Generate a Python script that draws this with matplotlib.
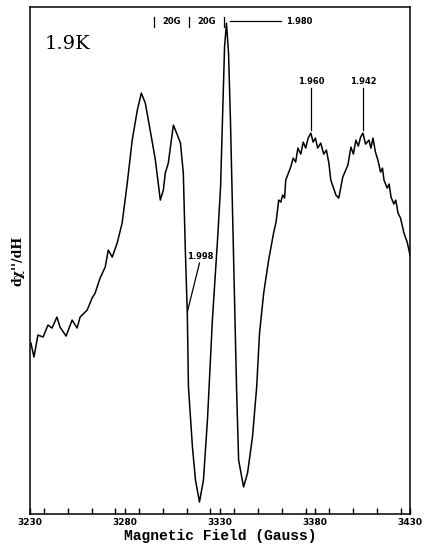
import matplotlib
matplotlib.use("Agg")
import matplotlib.pyplot as plt
from matplotlib.ticker import MultipleLocator

# EPR derivative spectrum at 1.9 K (field in Gauss, signal in arbitrary units)
field = [3230.5, 3232.1, 3234.2, 3236.9, 3239.5, 3241.6, 3244.2, 3245.8, 3249.0, 3252.2,
         3254.8, 3256.4, 3260.1, 3262.7, 3264.3, 3266.9, 3269.6, 3271.2, 3273.3, 3275.9,
         3278.5, 3281.2, 3283.8, 3286.5, 3288.6, 3290.7, 3293.9, 3296.0, 3298.6, 3300.2,
         3301.2, 3302.8, 3304.9, 3305.5, 3307.6, 3309.2, 3310.7, 3311.8, 3312.8, 3313.4,
         3315.5, 3317.1, 3319.2, 3321.3, 3323.4, 3326.0, 3328.7, 3330.3, 3331.3, 3332.4,
         3333.4, 3334.5, 3335.5, 3337.1, 3338.7, 3339.8, 3342.4, 3344.5, 3347.1, 3349.3,
         3350.8, 3353.0, 3355.6, 3358.2, 3359.5, 3360.9, 3362.0, 3363.0, 3364.0, 3364.6,
         3367.2, 3368.5, 3369.8, 3371.0, 3372.5, 3373.8, 3375.1, 3376.4, 3377.8, 3379.0,
         3380.2, 3381.4, 3383.0, 3384.6, 3386.0, 3387.3, 3388.3, 3391.0, 3392.5, 3394.6,
         3397.3, 3398.9, 3400.2, 3401.5, 3402.8, 3404.0, 3405.2, 3406.6, 3408.4, 3409.4,
         3410.5, 3411.8, 3413.1, 3414.5, 3415.5, 3416.3, 3418.0, 3419.0, 3420.0, 3421.5,
         3422.5, 3423.7, 3425.0, 3426.8, 3428.5, 3430.0]
signal = [171, 157, 179, 177, 189, 186, 197, 187, 178, 194,
          186, 197, 204, 216, 221, 236, 247, 264, 257, 271,
          291, 331, 374, 404, 421, 411, 377, 354, 314, 324,
          341, 351, 381, 389, 379, 371, 341, 261, 201, 127,
          67, 34, 12, 34, 94, 194, 274, 327, 394, 467,
          491, 461, 394, 261, 127, 54, 27, 41, 77, 127,
          181, 221, 254, 281, 292, 314, 312, 319, 316, 334,
          347, 356, 352, 366, 360, 372, 366, 376, 381, 372,
          376, 366, 371, 360, 364, 351, 334, 319, 316, 337,
          349, 367, 360, 374, 368, 377, 381, 370, 374, 366,
          376, 362, 354, 342, 346, 334, 326, 330, 317, 310,
          314, 301, 296, 281, 272, 259]

xticks = [3230, 3280, 3330, 3380, 3430]
g_labels = ["1.980", "1.960", "1.942", "1.998"]

fig = plt.figure(figsize=(4.28, 5.5), dpi=100)
ax = fig.add_axes([0.070, 0.0655, 0.888, 0.9215])
ax.plot(field, signal, color="black", linewidth=1.1)
ax.set_xlim(3230, 3430)
ax.set_ylim(0, 507)

ax.set_xticks(xticks)
ax.xaxis.set_minor_locator(MultipleLocator(12.5))
ax.tick_params(axis="x", which="both", direction="in", length=4, width=1, pad=3)
ax.tick_params(axis="x", labelsize=6.5)
for lab in ax.get_xticklabels():
    lab.set_fontweight("bold")
ax.set_yticks([])
for sp in ax.spines.values():
    sp.set_linewidth(1.1)

ax.set_xlabel("Magnetic Field (Gauss)", family="Liberation Mono", fontweight="bold",
              fontsize=10.5, labelpad=1)
ax.set_ylabel("d\u03c7''/dH", family="DejaVu Serif", fontweight="bold", fontsize=9, labelpad=4)

ax.text(3237.5, 470, "1.9K", family="DejaVu Serif", fontsize=14, va="center", ha="left")

lw = 0.9
fs = 6
# 20G scale bars
for b in [3295.2, 3313.8, 3332.2]:
    ax.plot([b, b], [487, 497], color="black", linewidth=lw)
for t in [3304.4, 3323.0]:
    ax.text(t, 493, "20G", fontsize=fs, fontweight="bold", ha="center", va="center")

ax.plot([3335.5, 3361.9], [493, 493], color="black", linewidth=lw)
ax.text(3364.5, 493, g_labels[0], fontsize=fs, fontweight="bold", ha="left", va="center")

for b, lab in [(3377.8, g_labels[1]), (3405.2, g_labels[2])]:
    ax.plot([b, b], [384, 426], color="black", linewidth=lw)
    ax.text(b, 433, lab, fontsize=fs, fontweight="bold", ha="center", va="center")

ax.plot([3319.2, 3312.8], [251, 202], color="black", linewidth=lw)
ax.text(3319.7, 258, g_labels[3], fontsize=fs, fontweight="bold", ha="center", va="center")

fig.savefig("out.png", dpi=100, facecolor="white")
